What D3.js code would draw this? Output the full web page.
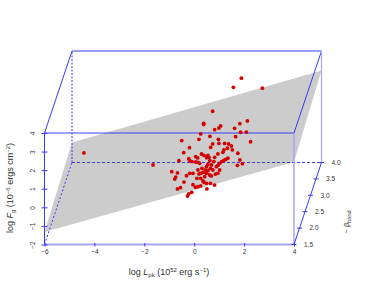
<!DOCTYPE html>
<html>
<head>
<meta charset="utf-8">
<script src="https://cdnjs.cloudflare.com/ajax/libs/d3/7.8.5/d3.min.js"></script>
<style>
	html, body { margin: 0; padding: 0; background: white; }
	svg { display: block; }
	text { font-family: "Liberation Sans", Arial, sans-serif; fill: #333; }
</style>
</head>
<body>
<svg id="chart" width="374" height="307"></svg>
<script>
var pointL = [0.38,1.06,0.99,0.82,1.62,1.83,2.13,1.86,2.09,0.26,0.63,0.19,1.66,-0.5,0.97,2.26,0.74,0.99,1.22,1.38,1.49,0.66,-0.19,1.33,1.19,1.15,1.53,-0.42,0.95,1.75,0.29,0.39,0.06,0.14,0.5,0.59,0.55,-0.22,-0.61,-0.18,-0.09,0.06,0.15,0.22,0.63,1.35,1.26,1.19,1.1,1.02,0.95,0.89,1.83,1.93,1.73,0.55,0.49,0.55,0.45,0.49,0.65,-0.9,-0.67,-0.74,-0.78,-0.31,-0.18,-0.05,0.19,0.26,0.35,0.42,0.62,0.69,0.85,0.95,1.02,-0.41,-0.55,-0.67,-0.05,0.05,0.15,0.26,0.39,0.49,0.65,0.82,0.51,-0.1,-0.22,-0.27,1.89,1.57,2.73,0.74,0.38,-4.42,-1.65,0.31,0.15,0.26,0.35,0.11,0.75,0.79,0.69,0.82];
var pointF = [4.52,4.38,4.27,4.18,4.25,4.5,4.65,4.04,4.05,3.95,3.82,3.66,3.8,3.59,3.66,3.53,3.41,3.44,3.44,3.41,3.3,3.23,3.21,3.18,3.09,2.96,3.09,2.94,2.87,2.91,2.87,2.8,2.73,2.66,2.67,2.69,2.8,2.62,2.51,2.51,2.46,2.44,2.42,2.37,2.51,2.64,2.58,2.53,2.46,2.37,2.26,2.19,2.55,2.35,2.26,2.31,2.19,1.97,2.01,1.83,2.1,1.92,1.85,1.63,1.52,1.7,1.83,1.83,1.79,1.83,1.88,1.65,1.74,1.69,1.79,1.83,2.01,1.36,1.06,0.99,1.22,1.08,1.11,1.15,1.35,1.29,1.29,1.2,0.99,0.81,0.72,0.61,6.95,6.46,6.41,5.17,4.46,2.93,2.28,2.1,2.01,1.56,1.42,1.56,2.01,2.46,2.28,2.69];

//Corners of the fitted plane
var planeL = [-6, 4, 4, -6];
var planeBeta = [1.5, 1.5, 4, 4];
var planeF = [-1.33, 2.44, 2.95, -0.92];

//Tick labels
var lTicks = [-6, -4, -2, 0, 2, 4];
var fTicks = [-2, -1, 0, 1, 2, 3, 4];
var betaTicks = [1.5, 2, 2.5, 3, 3.5, 4];

var blue = "#3a3af5";
var paleBlue = "#a6a6fb";

var svg = d3.select("#chart");

var xScale = d3.scaleLinear().domain([-6, 4]).range([44.5, 294]);
var zScale = d3.scaleLinear().domain([-2, 4]).range([244.5, 133]);
//the depth axis shifts everything up and to the right
var depthX = d3.scaleLinear().domain([1.5, 4]).range([0, 27.5]);
var depthY = d3.scaleLinear().domain([1.5, 4]).range([0, -82]);

function project(l, f, b){
	return [xScale(l) + depthX(b), zScale(f) + depthY(b)];
}

//plane
svg.append("polygon")
	.attr("points", planeL.map(function(l, i){
		return project(l, planeF[i], planeBeta[i]).join(",");
	}).join(" "))
	.attr("fill", "#cccccc");

//box edges: [l, f, beta] from, [l, f, beta] to, colour, width, dash
var edges = [
	[[-6, -2, 4], [4, -2, 4], blue, 1, "3,2"],
	[[-6, -2, 1.5], [-6, -2, 4], blue, 1, "2,2"],
	[[-6, -2, 4], [-6, 4, 4], blue, 1, "2,1.5"],
	[[-6, 4, 1.5], [4, 4, 1.5], blue, 1, null],
	[[-6, 4, 4], [4, 4, 4], blue, 1, null],
	[[-6, 4, 1.5], [-6, 4, 4], blue, 1, null],
	[[4, 4, 1.5], [4, 4, 4], blue, 1, null],
	[[-6, -2, 1.5], [-6, 4, 1.5], blue, 1, null],
	[[4, -2, 1.5], [4, 4, 1.5], paleBlue, 1.5, null],
	[[4, -2, 4], [4, 4, 4], paleBlue, 1.2, null],
	[[-6, -2, 1.5], [4, -2, 1.5], paleBlue, 2, null],
	[[4, -2, 1.5], [4, -2, 4], blue, 1, null]
];

var edgeLine = d3.line();
svg.append("g").selectAll("path")
	.data(edges)
	.enter()
	.append("path")
	.attr("d", function(d){
		return edgeLine([project(d[0][0], d[0][1], d[0][2]), project(d[1][0], d[1][1], d[1][2])]);
	})
	.attr("fill", "none")
	.attr("stroke", function(d){ return d[2]; })
	.attr("stroke-width", function(d){ return d[3]; })
	.attr("stroke-dasharray", function(d){ return d[4]; });

//axes
var bottomAxis = d3.axisBottom(xScale).tickValues(lTicks).tickFormat(d3.format("d")).tickSize(2).tickPadding(4);
var leftAxis = d3.axisLeft(zScale).tickValues(fTicks).tickFormat(d3.format("d")).tickSize(3).tickPadding(4);

var gx = svg.append("g")
	.attr("transform", "translate(0," + zScale(-2) + ")")
	.call(bottomAxis);
gx.select(".domain").remove();
gx.selectAll("line").attr("y1", -1.5).attr("stroke", blue);
gx.selectAll("text").attr("font-size", 6.5).attr("y", 5);

var gz = svg.append("g")
	.attr("transform", "translate(" + xScale(-6) + ",0)")
	.call(leftAxis);
gz.select(".domain").remove();
gz.selectAll("line").attr("x2", 3).attr("x1", -3).attr("stroke", blue);
gz.selectAll("text")
	.attr("font-size", 6.5)
	.attr("text-anchor", "middle")
	.attr("x", 0)
	.attr("dy", 0)
	.attr("transform", "translate(-9.5,0) rotate(-90)");

//depth axis, ticks sit on the lower right edge of the box
var betaGroup = svg.append("g").selectAll("g")
	.data(betaTicks)
	.enter()
	.append("g")
	.attr("transform", function(d){
		var p = project(4, -2, d);
		return "translate(" + p[0] + "," + p[1] + ")";
	});
betaGroup.append("line")
	.attr("x1", -2.5)
	.attr("x2", 2.5)
	.attr("stroke", blue);
betaGroup.append("text")
	.attr("x", 14.5)
	.attr("dy", "0.35em")
	.attr("font-size", 6.5)
	.attr("text-anchor", "middle")
	.text(function(d){ return d3.format(".1f")(d); });

//points
svg.append("g").selectAll("circle")
	.data(pointL)
	.enter()
	.append("circle")
	.attr("cx", function(d){ return xScale(d); })
	.attr("cy", function(d, i){ return zScale(pointF[i]); })
	.attr("r", 1.9)
	.attr("fill", "#d60000");

//axis titles
var xTitle = svg.append("text")
	.attr("x", 169)
	.attr("y", 275)
	.attr("font-size", 9)
	.attr("text-anchor", "middle");
xTitle.append("tspan").text("log ");
xTitle.append("tspan").attr("font-style", "italic").text("L");
xTitle.append("tspan").attr("font-size", 6).attr("dy", 1.5).text("pk");
xTitle.append("tspan").attr("dy", -1.5).text(" (10");
xTitle.append("tspan").attr("font-size", 6).attr("dy", -3).text("52");
xTitle.append("tspan").attr("dy", 3).text(" erg s");
xTitle.append("tspan").attr("font-size", 6).attr("dy", -3).text("\u22121");
xTitle.append("tspan").attr("dy", 3).text(")");

var zTitle = svg.append("text")
	.attr("transform", "translate(13,188) rotate(-90)")
	.attr("font-size", 9)
	.attr("text-anchor", "middle");
zTitle.append("tspan").text("log ");
zTitle.append("tspan").attr("font-style", "italic").text("F");
zTitle.append("tspan").attr("font-size", 6).attr("dy", 1.5).text("g");
zTitle.append("tspan").attr("dy", -1.5).text(" (10");
zTitle.append("tspan").attr("font-size", 6).attr("dy", -3).text("\u22126");
zTitle.append("tspan").attr("dy", 3).text(" ergs cm");
zTitle.append("tspan").attr("font-size", 6).attr("dy", -3).text("\u22122");
zTitle.append("tspan").attr("dy", 3).text(")");

var bTitle = svg.append("text")
	.attr("transform", "translate(349,222) rotate(-90)")
	.attr("font-size", 7.5)
	.attr("text-anchor", "middle");
bTitle.append("tspan").text("\u2212 \u03b2");
bTitle.append("tspan").attr("font-size", 5.5).attr("dy", 1.5).text("band");
</script>
</body>
</html>
